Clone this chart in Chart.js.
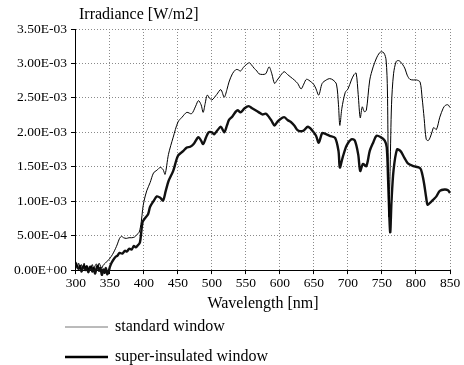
<!DOCTYPE html>
<html lang="en">
<head>
    <meta charset="UTF-8">
    <title>Irradiance through windows</title>
    <script src="https://cdn.jsdelivr.net/npm/chart.js"></script>
    <style>
        html, body {
            margin: 0;
            padding: 0;
            background: #fff;
        }
        #wrap {
            width: 464px;
            height: 365px;
        }
    </style>
</head>
<body>
    <div id="wrap"><canvas id="irradianceChart"></canvas></div>

    <script>
        // data (irradiance in units of 1E-03 W/m2)
        const stdWavelength = [
            300, 302, 304, 306, 308, 310, 312, 314, 316, 318, 320, 322, 324, 326, 328, 330, 332, 334, 336, 338,
            340, 343, 346, 349, 352, 355, 358, 361, 364, 367, 370, 374, 378, 382, 386, 390, 393, 396, 398, 400,
            404, 409, 414, 419, 424, 428, 431, 436, 443, 450, 456, 463, 470, 476, 480, 484, 487, 490, 493, 497,
            500, 507, 513, 518, 522, 525, 530, 535, 538, 542, 546, 550, 555, 558, 562, 566, 569, 574, 579, 584,
            588, 592, 596, 599, 606, 611, 616, 621, 626, 631, 635, 639, 646, 650, 653, 657, 662, 668, 673, 678,
            683, 686, 688, 691, 696, 700, 705, 709, 712, 715, 718, 721, 724, 727, 732, 737, 742, 746, 749, 753,
            756, 758, 760, 762, 764, 767, 771, 775, 780, 784, 787, 791, 796, 801, 806, 809, 812, 815, 818, 821,
            824, 826, 830, 835, 840, 843, 847, 850
        ];
        const stdIrradiance = [
            0.12, 0.05, 0.10, 0.02, 0.08, 0.04, 0.10, 0.03, 0.07, 0.01, 0.06, 0.03, 0.08, 0.02, 0.06, 0.09, 0.04, 0.10, 0.06, 0.03,
            0.07, 0.10, 0.13, 0.16, 0.20, 0.25, 0.31, 0.38, 0.46, 0.49, 0.47, 0.46, 0.47, 0.47, 0.48, 0.52, 0.55, 0.70, 0.88, 1.00,
            1.15, 1.27, 1.41, 1.45, 1.49, 1.46, 1.39, 1.68, 1.93, 2.15, 2.22, 2.29, 2.27, 2.38, 2.46, 2.40, 2.29, 2.42, 2.54, 2.49,
            2.47, 2.55, 2.62, 2.51, 2.62, 2.73, 2.85, 2.91, 2.91, 2.89, 2.94, 2.98, 3.01, 2.98, 2.93, 2.89, 2.85, 2.84, 2.85, 2.95,
            2.85, 2.71, 2.76, 2.80, 2.88, 2.84, 2.80, 2.76, 2.71, 2.63, 2.70, 2.77, 2.73, 2.69, 2.63, 2.54, 2.71, 2.76, 2.78, 2.76,
            2.70, 2.40, 2.10, 2.35, 2.58, 2.63, 2.76, 2.84, 2.86, 2.55, 2.21, 2.37, 2.30, 2.32, 2.76, 2.95, 3.08, 3.15, 3.17, 3.15,
            3.05, 2.60, 0.78, 1.50, 2.40, 2.85, 3.03, 3.04, 2.99, 2.92, 2.83, 2.77, 2.76, 2.76, 2.73, 2.50, 2.20, 1.90, 1.88, 1.93,
            2.02, 2.07, 2.04, 2.22, 2.35, 2.39, 2.40, 2.36
        ];

        const superWavelength = [
            300, 302, 304, 306, 308, 310, 312, 314, 316, 318, 320, 322, 324, 326, 328, 330, 332, 334, 336, 338,
            340, 342, 344, 346, 348, 350, 352, 355, 358, 361, 364, 368, 372, 375, 378, 382, 385, 388, 391, 394,
            396, 398, 402, 406, 409, 414, 419, 424, 428, 432, 436, 443, 450, 458, 463, 468, 473, 480, 484, 487,
            491, 495, 500, 503, 508, 513, 518, 522, 525, 530, 535, 538, 542, 548, 554, 559, 564, 569, 574, 579,
            584, 588, 592, 596, 599, 606, 611, 616, 621, 626, 634, 641, 648, 653, 657, 662, 666, 673, 681, 686,
            688, 692, 698, 705, 710, 715, 718, 722, 727, 732, 737, 742, 748, 754, 757, 759, 762, 764, 767, 772,
            777, 783, 788, 796, 806, 809, 812, 815, 817, 821, 825, 830, 835, 842, 847, 850
        ];
        const superIrradiance = [
            0.10, 0.04, 0.02, 0.06, -0.02, 0.03, 0.06, 0.00, 0.05, -0.03, 0.02, 0.05, -0.02, 0.03, -0.05, 0.02, 0.06, -0.01, 0.03, -0.07,
            0.01, -0.04, 0.03, -0.06, -0.02, 0.05, 0.10, 0.15, 0.19, 0.21, 0.25, 0.24, 0.28, 0.27, 0.31, 0.30, 0.35, 0.33, 0.36, 0.40,
            0.55, 0.70, 0.76, 0.81, 0.92, 1.00, 1.07, 1.05, 1.01, 1.15, 1.29, 1.44, 1.66, 1.73, 1.78, 1.79, 1.83, 1.93, 1.88, 1.83,
            1.92, 2.00, 2.00, 1.97, 2.03, 2.08, 2.00, 2.10, 2.18, 2.23, 2.30, 2.32, 2.29, 2.35, 2.38, 2.35, 2.32, 2.29, 2.26, 2.27,
            2.22, 2.16, 2.10, 2.15, 2.18, 2.22, 2.18, 2.15, 2.10, 2.03, 2.02, 2.08, 2.02, 1.95, 1.85, 1.99, 1.98, 1.95, 1.92, 1.73,
            1.49, 1.63, 1.81, 1.90, 1.88, 1.68, 1.44, 1.54, 1.51, 1.73, 1.85, 1.95, 1.93, 1.88, 1.78, 1.30, 0.55, 1.00, 1.45, 1.75,
            1.73, 1.63, 1.55, 1.51, 1.48, 1.40, 1.25, 1.05, 0.95, 0.98, 1.02, 1.07, 1.15, 1.17, 1.16, 1.12
        ];

        const seriesNames = ['standard window', 'super-insulated window'];
        const xAxisTitle = 'Wavelength [nm]';
        const yAxisTitle = 'Irradiance [W/m2]';
        const xTicks = { min: 300, max: 850, step: 50 };
        const yTicks = { min: 0, max: 0.0035, step: 0.0005 };

        const serif = "'Liberation Serif', 'DejaVu Serif', serif";

        function toPoints(xs, ys) {
            return xs.map((x, i) => ({ x: x, y: ys[i] * 1e-3 }));
        }

        // 3.50E-03 style labels
        function sciLabel(v) {
            if (Math.abs(v) < 1e-12) return '0.00E+00';
            let e = Math.floor(Math.log10(Math.abs(v)) + 1e-9);
            let m = (v / Math.pow(10, e)).toFixed(2);
            if (m === '10.00') { e++; m = (v / Math.pow(10, e)).toFixed(2); }
            return m + 'E' + (e < 0 ? '-' : '+') + String(Math.abs(e)).padStart(2, '0');
        }

        // caption above the y axis and the stacked legend under the chart
        const extraText = {
            id: 'extraText',
            afterDraw(chart) {
                const ctx = chart.ctx;
                ctx.save();
                ctx.fillStyle = '#000';
                ctx.textBaseline = 'middle';
                ctx.textAlign = 'left';
                ctx.font = '16px ' + serif;
                ctx.fillText(yAxisTitle, chart.chartArea.left + 3, 15);

                const rows = [327, 357];
                chart.data.datasets.forEach((ds, i) => {
                    const y = rows[i];
                    ctx.beginPath();
                    ctx.strokeStyle = i === 0 ? '#777' : '#000';
                    ctx.lineWidth = ds.borderWidth;
                    ctx.moveTo(65, y);
                    ctx.lineTo(108, y);
                    ctx.stroke();
                    ctx.fillText(ds.label, 115, y);
                });
                ctx.restore();
            }
        };

        const ctx = document.getElementById('irradianceChart').getContext('2d');
        new Chart(ctx, {
            type: 'line',
            data: {
                datasets: [
                    {
                        label: seriesNames[0],
                        data: toPoints(stdWavelength, stdIrradiance),
                        borderColor: '#000',
                        borderWidth: 1,
                        pointRadius: 0,
                        tension: 0.3,
                        fill: false,
                        clip: 6
                    },
                    {
                        label: seriesNames[1],
                        data: toPoints(superWavelength, superIrradiance),
                        borderColor: '#111',
                        borderWidth: 2.4,
                        pointRadius: 0,
                        tension: 0.3,
                        fill: false,
                        clip: 6
                    }
                ]
            },
            options: {
                responsive: true,
                maintainAspectRatio: false,
                animation: false,
                layout: {
                    padding: { top: 29, left: 10, right: 14, bottom: 49.5 }
                },
                plugins: {
                    legend: { display: false },
                    tooltip: { enabled: false }
                },
                scales: {
                    x: {
                        type: 'linear',
                        min: xTicks.min,
                        max: xTicks.max,
                        ticks: {
                            stepSize: xTicks.step,
                            color: '#000',
                            font: { family: serif, size: 13.5 },
                            padding: 1,
                            maxRotation: 0,
                            autoSkip: false
                        },
                        grid: { color: '#8a8a8a', tickColor: '#000', tickLength: 4 },
                        border: { display: true, color: '#000', width: 1, dash: [1, 2] },
                        title: {
                            display: true,
                            text: xAxisTitle,
                            color: '#000',
                            font: { family: serif, size: 16 },
                            padding: { top: 2, bottom: 2 }
                        }
                    },
                    y: {
                        type: 'linear',
                        min: yTicks.min,
                        max: yTicks.max,
                        ticks: {
                            stepSize: yTicks.step,
                            color: '#000',
                            font: { family: serif, size: 13.5 },
                            padding: 4,
                            autoSkip: false,
                            callback: (v) => sciLabel(v)
                        },
                        grid: { color: '#8a8a8a', tickColor: '#000', tickLength: 5 },
                        border: { display: true, color: '#000', width: 1, dash: [1, 2] }
                    }
                }
            },
            plugins: [extraText]
        });
    </script>
</body>
</html>
